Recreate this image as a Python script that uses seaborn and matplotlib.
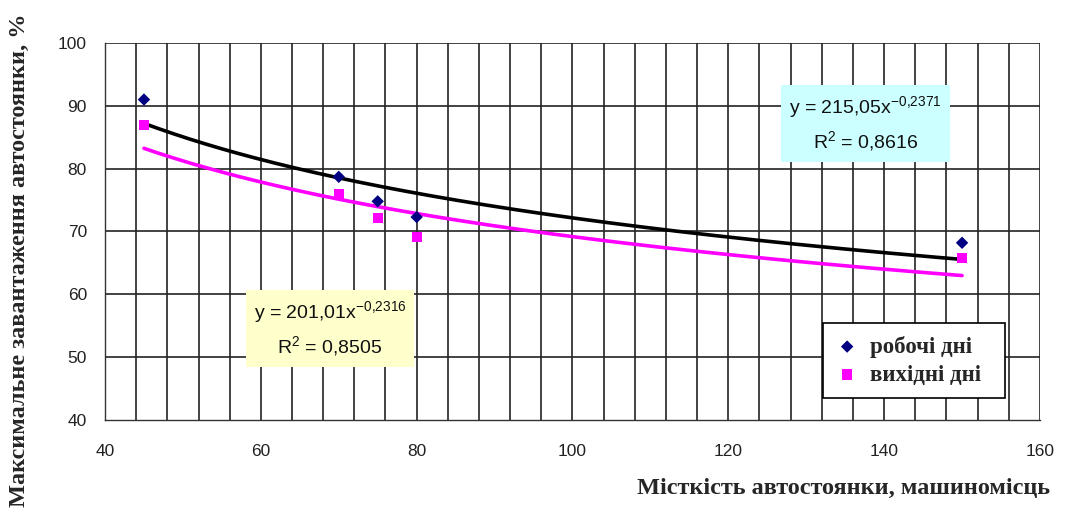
import numpy as np
import pandas as pd
import matplotlib
matplotlib.use("Agg")
import matplotlib.pyplot as plt
import seaborn as sns

# data
capacity = [45, 70, 75, 80, 150]
workdays = [91.0, 78.7, 74.8, 72.3, 68.2]
weekends = [87.0, 76.0, 72.2, 69.2, 65.8]
series_names = ["робочі дні", "вихідні дні"]
# power trend coefficients y = a * x^b (as printed on chart)
work_a, work_b = 215.05, -0.2371
week_a, week_b = 201.01, -0.2316
work_eq, work_r2 = ("215,05", "0,2371"), "0,8616"
week_eq, week_r2 = ("201,01", "0,2316"), "0,8505"
x_ticks = [40, 60, 80, 100, 120, 140, 160]
y_ticks = [40, 50, 60, 70, 80, 90, 100]
x_label = "Місткість автостоянки, машиномісць"
y_label = "Максимальне завантаження автостоянки, %"

sns.set_theme(style="white")
plt.rcParams["font.family"] = ["Liberation Sans", "DejaVu Sans"]

fig = plt.figure(figsize=(10.65, 5.15), dpi=100)
ax = fig.add_axes([0.0986, 0.1845, 0.8779, 0.732])

# grid
ax.set_xlim(40, 160)
ax.set_ylim(40, 100)
for gx in np.arange(44, 161, 4):
    ax.axvline(gx, color="#222222", lw=1.2, zorder=0)
for gy in np.arange(50, 101, 10):
    ax.axhline(gy, color="#222222", lw=1.2, zorder=0)

# trend lines
xs = np.linspace(min(capacity), max(capacity), 200)
trend_w = pd.DataFrame({"x": xs, "y": work_a * xs ** work_b})
trend_e = pd.DataFrame({"x": xs, "y": week_a * xs ** week_b})
sns.lineplot(data=trend_w, x="x", y="y", color="black", lw=2.6, ax=ax, legend=False, zorder=3)
sns.lineplot(data=trend_e, x="x", y="y", color="#FF00FF", lw=2.6, ax=ax, legend=False, zorder=3)

# points
sns.scatterplot(x=capacity, y=workdays, marker="D", color="#000080", s=40, edgecolor="none",
                ax=ax, label=series_names[0], zorder=4)
sns.scatterplot(x=capacity, y=weekends, marker="s", color="#FF00FF", s=52, edgecolor="none",
                ax=ax, label=series_names[1], zorder=4)


def eq_text(coef, r2):
    a, b = coef
    b = b.replace(",", "{,}")
    return ("y = " + a + "x$^{\\mathregular{-" + b + "}}$\nR$^{\\mathregular{2}}$ = " + r2)


# equation boxes
ax.text(137.6, 87.1, eq_text(work_eq, work_r2),
        ha="center", va="center", fontsize=14, color="#111111", linespacing=1.45,
        bbox=dict(facecolor="#CCFFFF", edgecolor="none", boxstyle="square,pad=0.4"), zorder=5)
ax.text(68.9, 54.5, eq_text(week_eq, week_r2),
        ha="center", va="center", fontsize=14, color="#111111", linespacing=1.45,
        bbox=dict(facecolor="#FFFFCC", edgecolor="none", boxstyle="square,pad=0.4"), zorder=5)

# axes styling
for side in ["top", "right"]:
    ax.spines[side].set_visible(False)
for side in ["left", "bottom"]:
    ax.spines[side].set_color("#333333")
    ax.spines[side].set_linewidth(1.0)
ax.set_xticks(x_ticks)
ax.set_yticks(y_ticks)
ax.tick_params(axis="both", direction="out", length=5, width=1, color="#333333",
               labelsize=12.5, pad=8, labelcolor="#222222")
ax.tick_params(axis="x", pad=12)
ax.set_xlabel("")
ax.set_ylabel("")

fig.text(0.986, 0.052, x_label, ha="right", va="center", fontsize=17.5, fontweight="bold",
         family=["Liberation Serif", "DejaVu Serif"])
fig.text(0.018, 0.495, y_label, ha="center", va="center", rotation=90, fontsize=17.5,
         fontweight="bold", family=["Liberation Serif", "DejaVu Serif"])

leg = ax.legend(loc="lower left", bbox_to_anchor=(0.768, 0.058, 0.195, 0.194), mode="expand",
                borderaxespad=0,
                frameon=True, fancybox=False, edgecolor="black", framealpha=1,
                prop={"family": ["Liberation Serif", "DejaVu Serif"], "size": 16.5, "weight": "bold"},
                handletextpad=0.5, borderpad=0.55, labelspacing=0.3, handlelength=1.0)
leg.get_frame().set_linewidth(1.2)
leg.set_zorder(6)

fig.savefig("out.png", dpi=100)
